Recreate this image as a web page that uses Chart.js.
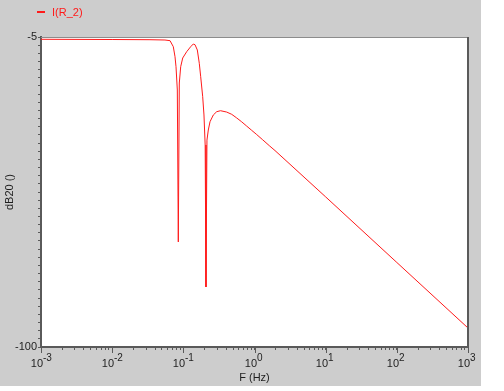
<!DOCTYPE html>
<html><head><meta charset="utf-8">
<script src="https://cdn.jsdelivr.net/npm/chart.js@4"></script>
<style>
html,body{margin:0;padding:0;background:#fff;}
#wrap{position:absolute;left:0;top:0;width:481px;height:386px;}
</style>
</head><body>
<div id="wrap"><canvas id="c" width="481" height="386"></canvas></div>
<script>
// ---- data ----
const seriesName = 'I(R_2)';
const freqHz = [0.001, 0.01, 0.034, 0.0552, 0.065, 0.0723, 0.0764, 0.0789, 0.0823, 0.085, 0.0878, 0.0918, 0.098, 0.1115, 0.1268, 0.138, 0.1459, 0.1572, 0.1676, 0.1754, 0.1871, 0.195, 0.2027, 0.208, 0.2148, 0.2243, 0.2371, 0.2637, 0.2944, 0.3329, 0.4066, 0.4786, 0.5619, 0.6607, 0.7766, 0.913, 1.074, 1.303, 1.614, 1.941, 10, 100, 1000];
const magDb  = [-5.7, -5.77, -5.83, -5.92, -6.13, -7.97, -11.04, -14.1, -21.24, -67.8, -19.1, -14.1, -11.44, -9.5, -7.97, -7.15, -7.36, -8.98, -13.06, -17.17, -23.3, -28.9, -38.1, -81.6, -36.6, -33.5, -30.96, -28.9, -27.89, -27.59, -28.0, -28.7, -29.8, -31.0, -32.3, -33.6, -34.9, -36.5, -38.3, -39.8, -54.0, -74.1, -94.18];
const xDecadeExponents = [-3, -2, -1, 0, 1, 2, 3];
const yLabelValues = [-5, -100];
const xTitle = 'F (Hz)';
const yTitle = 'dB20 ()';

const FONT = '"Liberation Sans", Arial, sans-serif';
const TEXT = '#1e1e1e';

const decor = {
  id: 'decor',
  beforeDraw(chart) {
    const {ctx, chartArea: a, width, height} = chart;
    ctx.save();
    ctx.fillStyle = '#cdcdcd';
    ctx.fillRect(0, 0, width, height);
    ctx.fillStyle = '#ffffff';
    ctx.fillRect(a.left, a.top, a.right - a.left, a.bottom - a.top);
    ctx.restore();
  },
  afterDraw(chart) {
    const {ctx, chartArea: a} = chart;
    const xs = chart.scales.x;
    ctx.save();
    // top & right frame
    ctx.strokeStyle = '#8c8c8c';
    ctx.lineWidth = 1;
    ctx.beginPath();
    ctx.moveTo(a.left, a.top + 0.5); ctx.lineTo(a.right, a.top + 0.5);
    ctx.stroke();
    ctx.strokeStyle = '#5a5a5a';
    ctx.lineWidth = 2;
    ctx.beginPath();
    ctx.moveTo(a.right, a.top); ctx.lineTo(a.right, a.bottom);
    ctx.stroke();
    // major x ticks (longer) + decade labels
    ctx.strokeStyle = '#5a5a5a';
    ctx.lineWidth = 1;
    ctx.fillStyle = TEXT;
    xDecadeExponents.forEach(e => {
      const px = Math.round(xs.getPixelForValue(Math.pow(10, e)));
      ctx.beginPath();
      ctx.moveTo(px + 0.5, a.bottom); ctx.lineTo(px + 0.5, a.bottom + 6);
      ctx.stroke();
      ctx.font = '11px ' + FONT;
      ctx.textAlign = 'right';
      ctx.textBaseline = 'alphabetic';
      ctx.fillText('10', px + 2, 367);
      ctx.font = '10px ' + FONT;
      ctx.textAlign = 'left';
      ctx.fillText(String(e), px + 2, 361);
    });
    // axis titles
    ctx.font = '11px ' + FONT;
    ctx.textAlign = 'center';
    ctx.textBaseline = 'middle';
    ctx.fillText(xTitle, (a.left + a.right) / 2, 378);
    ctx.save();
    ctx.translate(10, (a.top + a.bottom) / 2);
    ctx.rotate(-Math.PI / 2);
    ctx.fillText(yTitle, 0, 0);
    ctx.restore();
    // legend
    const col = chart.data.datasets[0].borderColor;
    ctx.strokeStyle = col;
    ctx.lineWidth = 2;
    ctx.beginPath();
    ctx.moveTo(37, 12); ctx.lineTo(45, 12);
    ctx.stroke();
    ctx.fillStyle = col;
    ctx.textAlign = 'left';
    ctx.fillText(chart.data.datasets[0].label, 52, 13);
    ctx.restore();
  }
};

new Chart(document.getElementById('c'), {
  type: 'scatter',
  data: {
    datasets: [{
      label: seriesName,
      data: freqHz.map((f, i) => ({x: f, y: magDb[i]})),
      showLine: true,
      borderColor: '#ff1a1a',
      borderWidth: 1,
      pointRadius: 0,
      tension: 0
    }]
  },
  options: {
    responsive: false,
    animation: false,
    layout: {padding: {top: 37, right: 13, left: 0, bottom: 0}},
    plugins: {legend: {display: false}, tooltip: {enabled: false}},
    scales: {
      x: {
        type: 'logarithmic',
        min: 1e-3, max: 1e3,
        afterBuildTicks(s) {
          const t = [];
          for (let e = -3; e <= 3; e++) {
            for (let m = 1; m <= 9; m++) {
              const v = m * Math.pow(10, e);
              if (v <= 1e3 * 1.0001) t.push({value: v});
              if (e === 3) break;
            }
          }
          s.ticks = t;
        },
        afterFit(s) { s.height = 39; },
        ticks: {display: false},
        grid: {drawOnChartArea: false, drawTicks: true, tickLength: 3, color: '#5a5a5a'},
        border: {display: true, color: '#5a5a5a', width: 2}
      },
      y: {
        type: 'linear',
        min: -100, max: -5,
        afterBuildTicks(s) {
          const t = [];
          for (let v = -100; v <= -5 + 1e-6; v += 2.5) t.push({value: v});
          s.ticks = t;
        },
        afterFit(s) { s.width = 41; },
        ticks: {
          autoSkip: false,
          padding: 1,
          color: TEXT,
          font: {size: 11, family: FONT},
          callback: v => yLabelValues.some(l => Math.abs(l - v) < 1e-6) ? String(v) : ''
        },
        grid: {drawOnChartArea: false, drawTicks: true, tickLength: 3, color: '#5a5a5a'},
        border: {display: true, color: '#5a5a5a', width: 2}
      }
    }
  },
  plugins: [decor]
});
</script>
</body></html>
